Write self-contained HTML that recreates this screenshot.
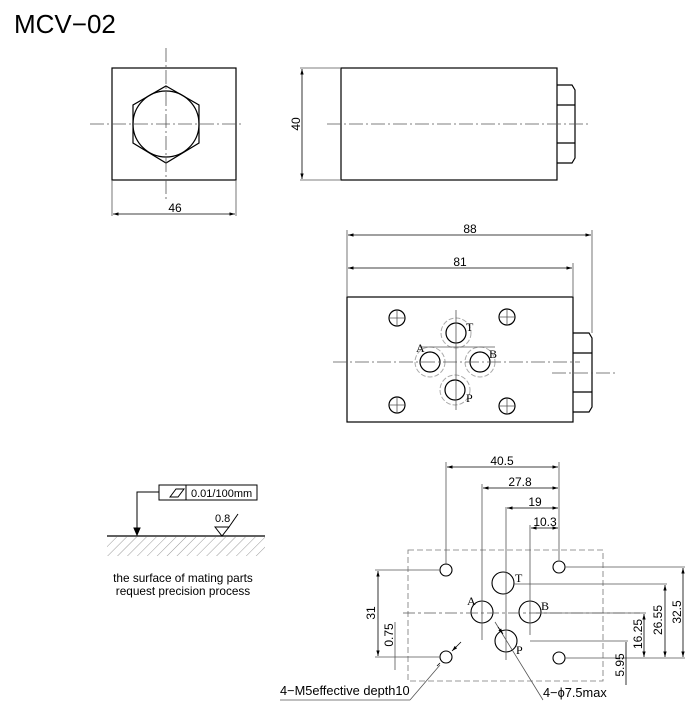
<!DOCTYPE html>
<html><head><meta charset="utf-8"><style>
body{margin:0;background:#fff}
svg{display:block}
text{font-family:"Liberation Sans",Arial,sans-serif;fill:#000}
text.s{font-family:"Liberation Serif",serif}
</style></head><body>
<svg width="700" height="723" viewBox="0 0 700 723" xmlns="http://www.w3.org/2000/svg">
<defs>
<marker id="ar" viewBox="0 0 10 10" refX="10" refY="5" markerWidth="7" markerHeight="7" orient="auto-start-reverse"><path d="M0,2 L10,5 L0,8 z" fill="#000"/></marker>
<pattern id="hatch" width="7" height="7" patternUnits="userSpaceOnUse" patternTransform="rotate(45)"><line x1="0" y1="0" x2="0" y2="7" stroke="#999" stroke-width="1"/></pattern>
</defs>
<text x="14" y="33" font-size="26">MCV−02</text>

<g fill="none" stroke="#000" stroke-width="1.2">
<rect x="112" y="68" width="124" height="112"/>
<polygon points="166,86 199,105 199,143 166,163 133,143 133,105"/>
<circle cx="166" cy="124" r="33"/>
<rect x="341" y="68" width="216" height="112"/>
<path d="M557,85 H572 L575,90 V158 L572,163 H557 M557,105 H575 M557,143 H575"/>
<rect x="347" y="297" width="226" height="125"/>
<path d="M573,333 H589 L592,338 V407 L589,412 H573 M573,353 H592 M573,392 H592"/>
<circle cx="397" cy="318" r="8"/><circle cx="507" cy="317" r="8"/>
<circle cx="397" cy="405" r="8"/><circle cx="507" cy="406" r="8"/>
<circle cx="456" cy="333" r="10"/><circle cx="430" cy="362" r="10"/>
<circle cx="480" cy="362" r="10"/><circle cx="455" cy="390" r="10"/>
</g>
<g fill="none" stroke="#aaa" stroke-width="1" stroke-dasharray="5,2">
<circle cx="456" cy="333" r="15"/><circle cx="430" cy="362" r="15"/>
<circle cx="480" cy="362" r="15"/><circle cx="455" cy="390" r="15"/>
</g>
<g stroke="#555" stroke-width="0.8" fill="none">
<path d="M166,48 V200" stroke-dasharray="14,3,2,3"/>
<path d="M90,124 H243" stroke-dasharray="14,3,2,3"/>
<path d="M327,124 H590" stroke-dasharray="14,3,2,3"/>
<path d="M333,362 H580" stroke-dasharray="14,3,2,3"/>
<path d="M552,373 H615" stroke-dasharray="14,3,2,3"/>
<path d="M456,310 V410 M420,347 H495"/>
<path d="M389,318 H405 M397,310 V326 M499,317 H515 M507,309 V325 M389,405 H405 M397,397 V413 M499,406 H515 M507,398 V414"/>
<path d="M112,180 V216 M236,180 V216 M300,68 H340 M300,180 H340"/>
<path d="M347,230 V297 M573,263 V297 M592,230 V333"/>
</g>
<g stroke="#000" stroke-width="0.8" fill="none">
<line x1="113" y1="214" x2="235" y2="214" marker-start="url(#ar)" marker-end="url(#ar)"/>
<line x1="302" y1="69" x2="302" y2="179" marker-start="url(#ar)" marker-end="url(#ar)"/>
<line x1="348" y1="235" x2="591" y2="235" marker-start="url(#ar)" marker-end="url(#ar)"/>
<line x1="348" y1="268" x2="572" y2="268" marker-start="url(#ar)" marker-end="url(#ar)"/>
</g>
<text x="175" y="212" font-size="12" text-anchor="middle">46</text>
<text transform="translate(300,124) rotate(-90)" font-size="12" text-anchor="middle">40</text>
<text x="470" y="233" font-size="12" text-anchor="middle">88</text>
<text x="460" y="266" font-size="12" text-anchor="middle">81</text>
<text class="s" font-size="12" x="466" y="331">T</text>
<text class="s" font-size="12" x="416" y="352">A</text>
<text class="s" font-size="12" x="489" y="358">B</text>
<text class="s" font-size="12" x="466" y="402">P</text>

<g fill="none" stroke="#000" stroke-width="1">
<rect x="159" y="485" width="98" height="15"/>
<line x1="186" y1="485" x2="186" y2="500"/>
<polygon points="170,497 176,489 184,489 178,497"/>
<path d="M159,492 H137 V530"/>
<path d="M134,528 L137,535 L140,528 z" fill="#000"/>
<line x1="107" y1="536" x2="265" y2="536" stroke-width="1.2"/>
<path d="M215,527 L222,536 L229,527 Z M229,527 L238,514"/>
</g>
<rect x="107" y="537" width="158" height="19" fill="url(#hatch)"/>
<text x="191" y="497" font-size="11">0.01/100mm</text>
<text x="215" y="522" font-size="11">0.8</text>
<text x="183" y="582" font-size="11.8" text-anchor="middle">the surface of mating parts</text>
<text x="183" y="595" font-size="11.8" text-anchor="middle">request precision process</text>

<rect x="408" y="550" width="195" height="131" fill="none" stroke="#777" stroke-width="0.8" stroke-dasharray="6,3"/>
<g fill="none" stroke="#000" stroke-width="1.1">
<circle cx="446" cy="570" r="6"/><circle cx="559" cy="567" r="6"/>
<circle cx="446" cy="657" r="6"/><circle cx="559" cy="658" r="6"/>
<circle cx="503" cy="583" r="11"/><circle cx="482" cy="612" r="11"/>
<circle cx="530" cy="612" r="11"/><circle cx="506" cy="641" r="11"/>
</g>
<g stroke="#555" stroke-width="0.8" fill="none">
<path d="M403,613 H640" stroke-dasharray="12,3,3,3"/>
<path d="M506,507 V660"/>
<path d="M446,462 V565 M559,462 V560 M482,484 V640 M530,525 V635"/>
<path d="M565,567 H685 M514,584 H667 M530,641 H628 M565,658 H685 M536,613 H646"/>
<path d="M375,570 H440 M375,657 H440 M395,622 V670 M410,700 L440,665 M410,700 H280 M495,622 L543,700"/>
</g>
<g stroke="#000" stroke-width="0.8" fill="none">
<line x1="447" y1="467" x2="558" y2="467" marker-start="url(#ar)" marker-end="url(#ar)"/>
<line x1="483" y1="488" x2="558" y2="488" marker-start="url(#ar)" marker-end="url(#ar)"/>
<line x1="507" y1="508" x2="558" y2="508" marker-start="url(#ar)" marker-end="url(#ar)"/>
<line x1="531" y1="528" x2="558" y2="528" marker-start="url(#ar)" marker-end="url(#ar)"/>
<line x1="683" y1="568" x2="683" y2="657" marker-start="url(#ar)" marker-end="url(#ar)"/>
<line x1="665" y1="585" x2="665" y2="657" marker-start="url(#ar)" marker-end="url(#ar)"/>
<line x1="644" y1="614" x2="644" y2="657" marker-start="url(#ar)" marker-end="url(#ar)"/>
<line x1="626" y1="642" x2="626" y2="685"/>
<line x1="378" y1="571" x2="378" y2="656" marker-start="url(#ar)" marker-end="url(#ar)"/>
<line x1="461" y1="642" x2="452" y2="651" marker-end="url(#ar)"/>
<line x1="437" y1="666" x2="440" y2="663"/>
<line x1="498" y1="627" x2="503" y2="634" marker-end="url(#ar)"/>
</g>
<g font-size="12">
<text x="502" y="465" text-anchor="middle">40.5</text>
<text x="520" y="486" text-anchor="middle">27.8</text>
<text x="535" y="506" text-anchor="middle">19</text>
<text x="545" y="526" text-anchor="middle">10.3</text>
<text transform="translate(681,612) rotate(-90)" text-anchor="middle">32.5</text>
<text transform="translate(662,620) rotate(-90)" text-anchor="middle">26.55</text>
<text transform="translate(642,634) rotate(-90)" text-anchor="middle">16.25</text>
<text transform="translate(624,665) rotate(-90)" text-anchor="middle">5.95</text>
<text transform="translate(375,613) rotate(-90)" text-anchor="middle">31</text>
<text transform="translate(393,635) rotate(-90)" text-anchor="middle">0.75</text>
<text x="280" y="695" font-size="12.8">4−M5effective depth10</text>
<text x="543" y="697" font-size="12.8">4−ϕ7.5max</text>
</g>
<text class="s" font-size="12" x="515" y="582">T</text>
<text class="s" font-size="12" x="467" y="605">A</text>
<text class="s" font-size="12" x="541" y="610">B</text>
<text class="s" font-size="12" x="516" y="654">P</text>
</svg>
</body></html>
